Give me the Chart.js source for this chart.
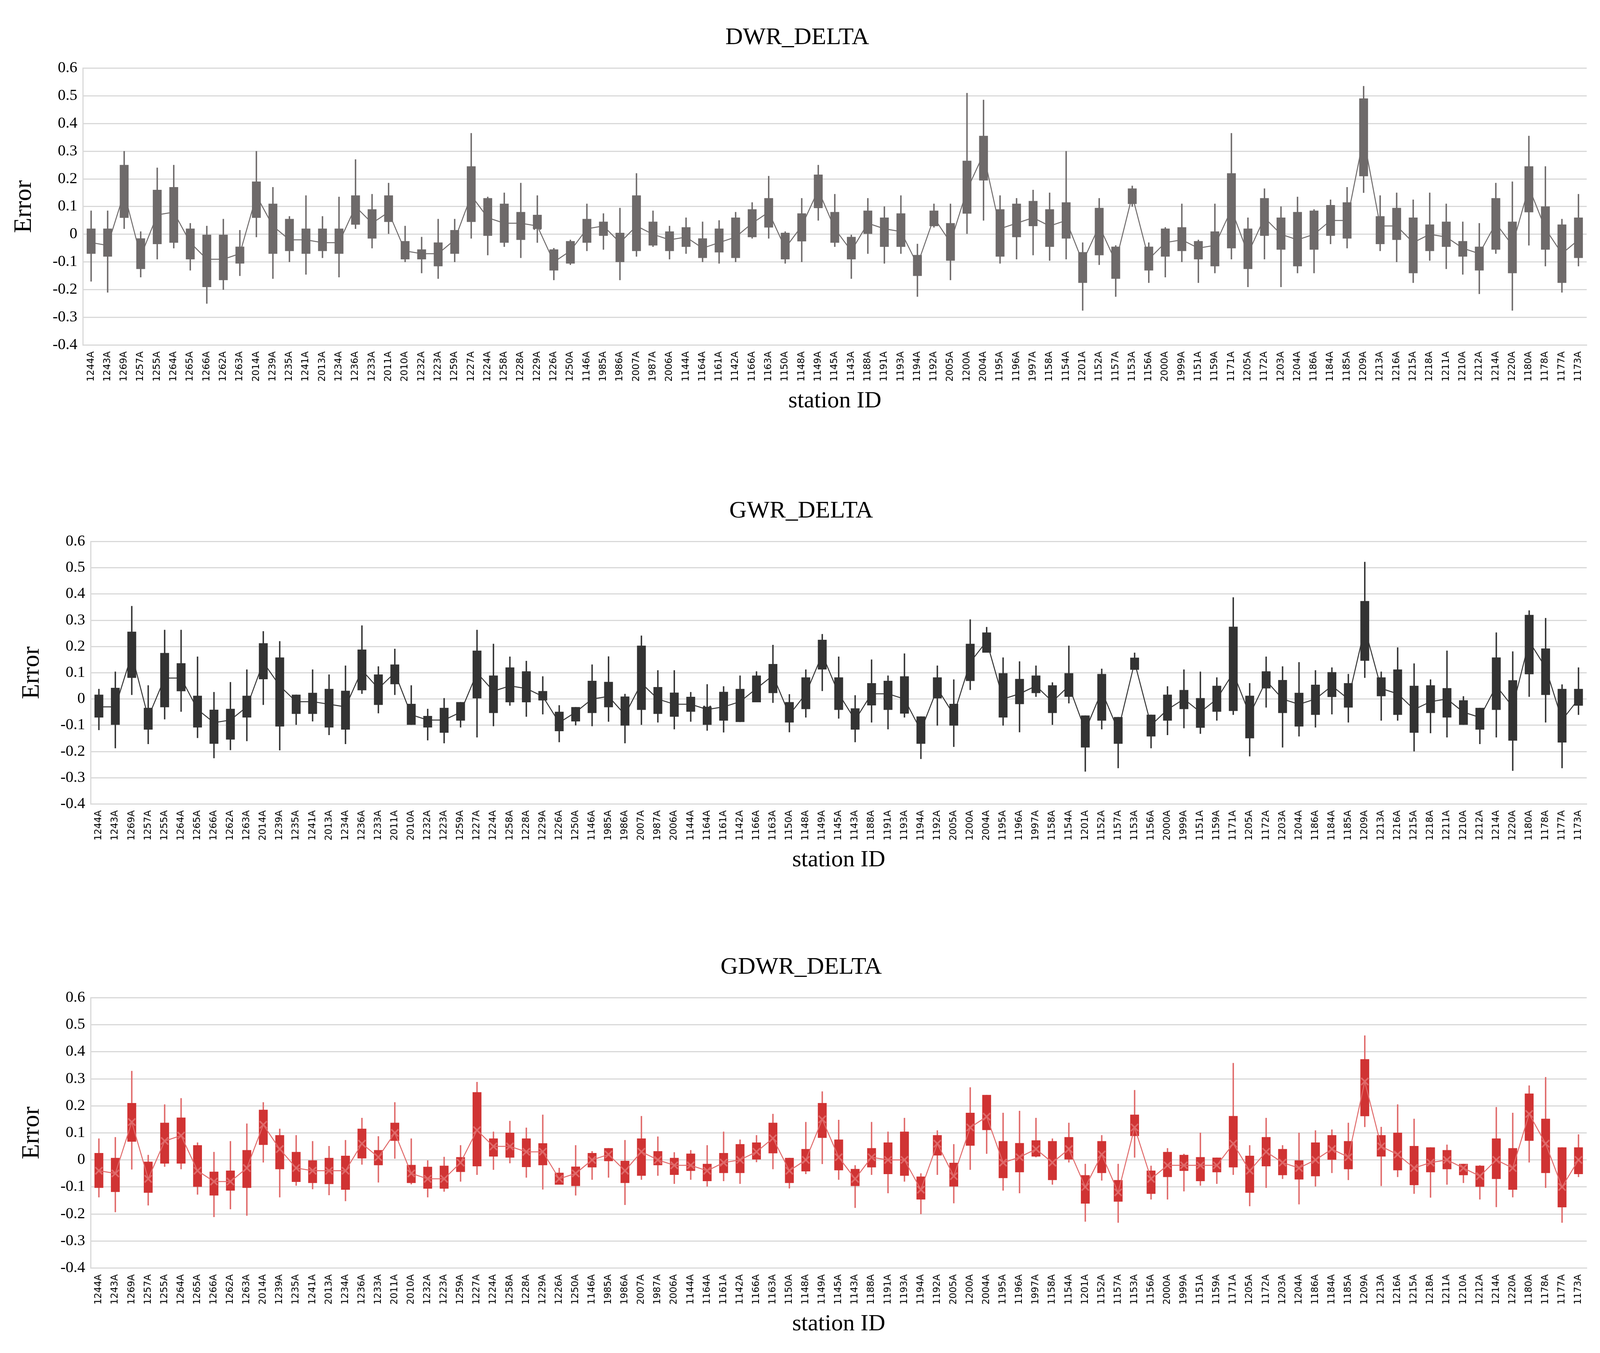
<!DOCTYPE html>
<html>
<head>
<meta charset="utf-8">
<script src="https://cdn.jsdelivr.net/npm/chart.js@4"></script>
<style>
  body { margin: 0; background: #fff; width: 4102px; height: 3464px; position: relative; overflow: hidden; }
  .box { position: absolute; left: 0; width: 4102px; }
  canvas { display: block; }
</style>
</head>
<body>
<div class="box" style="top:20px;height:1047px"><canvas id="c1" width="4102" height="1047"></canvas></div>
<div class="box" style="top:1232px;height:1010px"><canvas id="c2" width="4102" height="1010"></canvas></div>
<div class="box" style="top:2400px;height:1030px"><canvas id="c3" width="4102" height="1030"></canvas></div>
<script>
// station IDs along the x axis
const stations = ['1244A','1243A','1269A','1257A','1255A','1264A','1265A','1266A','1262A','1263A',
  '2014A','1239A','1235A','1241A','2013A','1234A','1236A','1233A','2011A','2010A',
  '1232A','1223A','1259A','1227A','1224A','1258A','1228A','1229A','1226A','1250A',
  '1146A','1985A','1986A','2007A','1987A','2006A','1144A','1164A','1161A','1142A',
  '1166A','1163A','1150A','1148A','1149A','1145A','1143A','1188A','1191A','1193A',
  '1194A','1192A','2005A','1200A','2004A','1195A','1196A','1997A','1158A','1154A',
  '1201A','1152A','1157A','1153A','1156A','2000A','1999A','1151A','1159A','1171A',
  '1205A','1172A','1203A','1204A','1186A','1184A','1185A','1209A','1213A','1216A',
  '1215A','1218A','1211A','1210A','1212A','1214A','1220A','1180A','1178A','1177A','1173A'];
const yTicks = [0.6, 0.5, 0.4, 0.3, 0.2, 0.1, 0, -0.1, -0.2, -0.3, -0.4];

// DWR_DELTA
const dwrQ3 = [0.02,0.02,0.25,-0.015,0.16,0.17,0.02,0,0,-0.045,0.19,0.11,0.055,0.02,0.02,0.02,0.14,0.09,0.14,-0.025,-0.055,-0.03,0.015,0.245,0.13,0.11,0.08,0.07,-0.055,-0.025,0.055,0.045,0.005,0.14,0.045,0.01,0.025,-0.015,0.02,0.06,0.09,0.13,0.005,0.075,0.215,0.08,-0.01,0.085,0.06,0.075,-0.075,0.085,0.04,0.265,0.355,0.09,0.11,0.12,0.09,0.115,-0.065,0.095,-0.045,0.165,-0.045,0.02,0.025,-0.025,0.01,0.22,0.02,0.13,0.06,0.08,0.085,0.105,0.115,0.49,0.065,0.095,0.06,0.035,0.045,-0.025,-0.045,0.13,0.045,0.245,0.1,0.035,0.06];
const dwrQ1 = [-0.07,-0.08,0.06,-0.125,-0.035,-0.03,-0.09,-0.19,-0.165,-0.105,0.06,-0.07,-0.06,-0.07,-0.06,-0.07,0.035,-0.015,0.045,-0.09,-0.09,-0.115,-0.07,0.045,-0.005,-0.03,-0.02,0.02,-0.13,-0.105,-0.03,-0.005,-0.1,-0.06,-0.04,-0.06,-0.045,-0.085,-0.065,-0.085,-0.01,0.025,-0.09,-0.025,0.095,-0.03,-0.09,0,-0.045,-0.045,-0.15,0.03,-0.095,0.075,0.195,-0.08,-0.01,0.03,-0.045,-0.015,-0.175,-0.075,-0.16,0.11,-0.13,-0.08,-0.06,-0.09,-0.115,-0.05,-0.125,-0.005,-0.055,-0.115,-0.055,-0.005,-0.015,0.21,-0.035,-0.02,-0.14,-0.06,-0.045,-0.08,-0.13,-0.055,-0.14,0.08,-0.055,-0.175,-0.085];
const dwrHi = [0.085,0.085,0.3,0.01,0.24,0.25,0.04,0.03,0.055,0.015,0.3,0.17,0.065,0.14,0.065,0.135,0.27,0.145,0.185,0.03,-0.01,0.055,0.055,0.365,0.135,0.15,0.185,0.14,-0.05,-0.02,0.11,0.075,0.095,0.22,0.085,0.03,0.06,0.045,0.05,0.08,0.115,0.21,0.01,0.13,0.25,0.145,0,0.13,0.1,0.14,-0.035,0.11,0.11,0.51,0.485,0.14,0.13,0.16,0.15,0.3,-0.03,0.13,-0.04,0.175,-0.03,0.025,0.11,-0.02,0.11,0.365,0.06,0.165,0.1,0.135,0.09,0.125,0.17,0.535,0.14,0.15,0.125,0.15,0.11,0.045,0.04,0.185,0.19,0.355,0.245,0.055,0.145];
const dwrLo = [-0.17,-0.21,0.02,-0.155,-0.09,-0.05,-0.13,-0.25,-0.2,-0.15,-0.01,-0.16,-0.1,-0.145,-0.085,-0.155,0.02,-0.05,0,-0.1,-0.14,-0.16,-0.1,-0.015,-0.075,-0.045,-0.085,-0.03,-0.165,-0.11,-0.06,-0.055,-0.165,-0.08,-0.045,-0.09,-0.07,-0.1,-0.105,-0.1,-0.015,-0.015,-0.105,-0.1,0.05,-0.045,-0.16,-0.07,-0.105,-0.07,-0.225,0.025,-0.165,0,0.05,-0.105,-0.09,-0.075,-0.095,-0.09,-0.275,-0.11,-0.225,0.1,-0.175,-0.155,-0.1,-0.175,-0.14,-0.09,-0.19,-0.09,-0.19,-0.14,-0.14,-0.035,-0.05,0.15,-0.06,-0.1,-0.175,-0.095,-0.125,-0.145,-0.215,-0.07,-0.275,-0.04,-0.115,-0.21,-0.115];
const dwrMean = [-0.03,-0.04,0.15,-0.08,0.07,0.08,-0.03,-0.09,-0.09,-0.07,0.14,0.03,-0.02,-0.02,-0.03,-0.03,0.1,0.04,0.08,-0.06,-0.07,-0.07,-0.02,0.14,0.06,0.04,0.04,0.03,-0.1,-0.06,0.02,0.03,-0.03,0.03,0,-0.02,-0.01,-0.05,-0.03,-0.01,0.04,0.08,-0.05,0.03,0.16,0.02,-0.06,0.04,0.02,0.01,-0.11,0.06,-0.03,0.16,0.29,0.02,0.04,0.06,0.03,0.05,-0.1,0.03,-0.1,0.14,-0.09,-0.03,-0.02,-0.05,-0.04,0.09,-0.07,0.06,0,-0.02,0,0.05,0.05,0.35,0.03,0.03,-0.03,0,-0.01,-0.05,-0.07,0.04,-0.04,0.17,0.02,-0.07,-0.02];

// GWR_DELTA
const gwrQ3 = [0.016,0.042,0.256,-0.034,0.175,0.136,0.012,-0.041,-0.038,0.012,0.212,0.158,0.016,0.023,0.038,0.031,0.188,0.093,0.131,-0.019,-0.065,-0.034,-0.012,0.184,0.089,0.12,0.105,0.03,-0.049,-0.031,0.069,0.065,0.009,0.203,0.045,0.024,0.008,-0.03,0.027,0.038,0.089,0.133,-0.012,0.082,0.225,0.082,-0.036,0.06,0.069,0.086,-0.067,0.082,-0.019,0.21,0.253,0.098,0.076,0.089,0.052,0.098,-0.063,0.095,-0.069,0.157,-0.06,0.016,0.034,0.003,0.05,0.275,0.012,0.105,0.072,0.023,0.054,0.102,0.06,0.373,0.082,0.112,0.05,0.052,0.041,-0.005,-0.034,0.158,0.071,0.32,0.192,0.038,0.038];
const gwrQ1 = [-0.07,-0.098,0.081,-0.116,-0.031,0.03,-0.108,-0.17,-0.154,-0.07,0.076,-0.104,-0.056,-0.056,-0.108,-0.116,0.034,-0.022,0.057,-0.098,-0.108,-0.128,-0.082,0.003,-0.053,-0.012,-0.012,-0.005,-0.122,-0.085,-0.053,-0.031,-0.101,-0.041,-0.056,-0.067,-0.048,-0.098,-0.082,-0.087,-0.012,0.023,-0.089,-0.038,0.113,-0.041,-0.116,-0.024,-0.041,-0.055,-0.17,0.003,-0.101,0.069,0.177,-0.07,-0.019,0.023,-0.053,0.009,-0.184,-0.082,-0.17,0.112,-0.142,-0.082,-0.038,-0.109,-0.048,-0.045,-0.149,0.041,-0.053,-0.104,-0.06,0.008,-0.032,0.146,0.011,-0.06,-0.128,-0.053,-0.07,-0.098,-0.116,-0.041,-0.158,0.095,0.016,-0.165,-0.025];
const gwrHi = [0.038,0.104,0.354,0.052,0.263,0.263,0.161,0.026,0.064,0.112,0.258,0.22,0.016,0.112,0.093,0.127,0.28,0.124,0.191,0.052,-0.038,0.003,-0.012,0.263,0.21,0.161,0.145,0.086,-0.024,-0.031,0.131,0.162,0.019,0.241,0.109,0.109,0.026,0.056,0.048,0.089,0.105,0.206,0.018,0.112,0.247,0.161,0.014,0.15,0.089,0.173,-0.067,0.127,0.074,0.303,0.274,0.158,0.143,0.127,0.063,0.203,-0.063,0.115,-0.069,0.176,-0.06,0.048,0.112,0.104,0.082,0.387,0.06,0.161,0.124,0.14,0.109,0.12,0.095,0.522,0.104,0.196,0.135,0.074,0.184,0.01,-0.034,0.253,0.181,0.337,0.308,0.055,0.12];
const gwrLo = [-0.118,-0.187,0.016,-0.171,-0.077,-0.048,-0.148,-0.225,-0.194,-0.16,-0.022,-0.195,-0.098,-0.085,-0.137,-0.171,0.02,-0.054,0.016,-0.098,-0.157,-0.168,-0.108,-0.146,-0.103,-0.025,-0.067,-0.058,-0.164,-0.1,-0.103,-0.086,-0.168,-0.098,-0.089,-0.115,-0.086,-0.12,-0.127,-0.087,-0.012,-0.014,-0.126,-0.07,0.031,-0.074,-0.164,-0.089,-0.115,-0.07,-0.228,-0.101,-0.182,0.035,0.177,-0.101,-0.126,0.009,-0.098,-0.016,-0.276,-0.115,-0.263,0.112,-0.187,-0.137,-0.111,-0.132,-0.082,-0.06,-0.218,-0.032,-0.184,-0.142,-0.108,-0.058,-0.089,0.081,-0.082,-0.082,-0.199,-0.13,-0.146,-0.098,-0.171,-0.146,-0.273,0.009,-0.089,-0.263,-0.06];
const gwrMean = [-0.03,-0.03,0.17,-0.07,0.08,0.08,-0.04,-0.09,-0.08,-0.03,0.14,0.05,-0.01,-0.01,-0.02,-0.03,0.11,0.04,0.1,-0.06,-0.08,-0.08,-0.05,0.1,0.03,0.05,0.04,0.01,-0.09,-0.05,0,0.01,-0.06,0.06,0,-0.02,-0.02,-0.04,-0.03,-0.01,0.04,0.09,-0.06,0.02,0.17,0.02,-0.08,0.02,0.02,0,-0.12,0.04,-0.06,0.14,0.22,0,0.02,0.05,-0.01,0.05,-0.12,0.03,-0.12,0.14,-0.1,-0.04,0,-0.05,0,0.1,-0.06,0.07,0,-0.02,0,0.05,0,0.27,0.04,0.02,-0.04,-0.01,0,-0.05,-0.07,0.05,-0.03,0.22,0.12,-0.08,0];

// GDWR_DELTA
const gdwrQ3 = [0.025,0.007,0.21,-0.007,0.137,0.156,0.054,-0.044,-0.04,0.036,0.185,0.091,0.029,0,0.007,0.015,0.115,0.036,0.137,-0.019,-0.026,-0.022,0.01,0.25,0.079,0.1,0.079,0.061,-0.048,-0.025,0.025,0.043,-0.004,0.079,0.032,0.007,0.023,-0.015,0.025,0.058,0.064,0.137,0.007,0.04,0.21,0.075,-0.034,0.043,0.064,0.104,-0.062,0.091,-0.011,0.174,0.24,0.069,0.062,0.072,0.069,0.084,-0.057,0.069,-0.075,0.167,-0.04,0.029,0.018,0.01,0.008,0.162,0.015,0.084,0.04,0,0.064,0.091,0.069,0.372,0.091,0.1,0.051,0.046,0.036,-0.015,-0.022,0.079,0.043,0.245,0.152,0.046,0.046];
const gdwrQ1 = [-0.103,-0.118,0.068,-0.121,-0.013,-0.013,-0.099,-0.131,-0.113,-0.103,0.056,-0.034,-0.081,-0.085,-0.089,-0.11,0.006,-0.019,0.071,-0.085,-0.106,-0.106,-0.044,-0.023,0.013,0.009,-0.026,-0.019,-0.091,-0.096,-0.027,-0.004,-0.085,-0.058,-0.019,-0.055,-0.04,-0.078,-0.048,-0.048,0,0.025,-0.085,-0.042,0.082,-0.038,-0.096,-0.027,-0.052,-0.058,-0.146,0.017,-0.098,0.053,0.111,-0.067,-0.045,0.013,-0.074,0,-0.161,-0.048,-0.154,0.089,-0.125,-0.063,-0.04,-0.078,-0.045,-0.027,-0.121,-0.023,-0.056,-0.072,-0.06,0.001,-0.034,0.162,0.013,-0.038,-0.093,-0.045,-0.034,-0.056,-0.099,-0.07,-0.11,0.071,-0.048,-0.175,-0.052];
const gdwrHi = [0.079,0.084,0.329,0.018,0.205,0.228,0.064,0.029,0.069,0.134,0.213,0.115,0.091,0.069,0.051,0.073,0.155,0.087,0.213,0.079,-0.002,0.011,0.054,0.288,0.104,0.144,0.119,0.167,-0.03,0.054,0.032,0.043,0.073,0.162,0.086,0.028,0.036,0.054,0.104,0.075,0.091,0.17,0.007,0.14,0.253,0.148,-0.02,0.14,0.104,0.155,-0.05,0.109,0.058,0.268,0.24,0.174,0.181,0.155,0.079,0.137,-0.015,0.091,-0.015,0.258,-0.022,0.043,0.022,0.1,0.008,0.358,0.054,0.155,0.054,0.1,0.109,0.112,0.137,0.46,0.122,0.205,0.152,0.046,0.056,-0.015,-0.02,0.195,0.174,0.275,0.306,0.046,0.094];
const gdwrLo = [-0.138,-0.193,-0.035,-0.168,-0.025,-0.034,-0.128,-0.211,-0.182,-0.206,-0.009,-0.138,-0.095,-0.108,-0.13,-0.152,-0.017,-0.083,0.005,-0.09,-0.138,-0.117,-0.08,-0.055,-0.036,-0.012,-0.065,-0.109,-0.091,-0.131,-0.073,-0.065,-0.166,-0.073,-0.058,-0.088,-0.073,-0.098,-0.078,-0.088,-0.008,-0.034,-0.105,-0.052,-0.015,-0.073,-0.177,-0.055,-0.123,-0.08,-0.2,-0.055,-0.16,-0.036,0.023,-0.113,-0.123,0.01,-0.091,-0.009,-0.228,-0.076,-0.232,0.009,-0.146,-0.146,-0.116,-0.095,-0.088,-0.055,-0.171,-0.103,-0.07,-0.164,-0.098,-0.048,-0.074,0.122,-0.096,-0.063,-0.125,-0.139,-0.091,-0.085,-0.146,-0.174,-0.138,-0.009,-0.103,-0.232,-0.063];
const gdwrMean = [-0.04,-0.05,0.14,-0.07,0.07,0.09,-0.04,-0.08,-0.08,-0.03,0.13,0.04,-0.03,-0.04,-0.04,-0.04,0.06,0.01,0.1,-0.05,-0.07,-0.07,-0.01,0.11,0.05,0.05,0.03,0.03,-0.07,-0.05,0,0.02,-0.04,0.03,0,-0.02,-0.02,-0.04,-0.01,0,0.03,0.08,-0.04,0,0.15,0.01,-0.07,0.01,0,0,-0.11,0.06,-0.06,0.12,0.16,-0.01,0.01,0.04,-0.01,0.04,-0.1,0.02,-0.12,0.12,-0.07,-0.02,-0.02,-0.02,-0.02,0.06,-0.04,0.03,-0.01,-0.03,0,0.04,0.01,0.29,0.05,0.02,-0.03,-0.01,0,-0.03,-0.06,0,-0.03,0.17,0.06,-0.1,0];

const serif = "'Liberation Serif', 'Times New Roman', serif";

function zip2(a, b) { return a.map((v, i) => [v, b[i]]); }

function makeChart(id, title, q1, q3, lo, hi, mean, boxColor, lineColor, pad) {
  new Chart(document.getElementById(id), {
    type: 'bar',
    data: {
      labels: stations,
      datasets: [
        { label: 'whisker', data: zip2(lo, hi), backgroundColor: lineColor, barThickness: 3, grouped: false, order: 3 },
        { label: 'box', data: zip2(q1, q3), backgroundColor: boxColor, barThickness: 22, grouped: false, order: 2 },
        { type: 'line', label: 'mean', data: mean, borderColor: lineColor, borderWidth: 2.5,
          pointStyle: 'crossRot', pointRadius: 13, pointBorderColor: lineColor, pointBorderWidth: 4, order: 1 }
      ]
    },
    options: {
      responsive: false,
      animation: false,
      devicePixelRatio: 1,
      layout: { padding: pad },
      plugins: {
        legend: { display: false },
        tooltip: { enabled: false },
        title: { display: true, text: title, color: '#000', font: { family: serif, size: 62, weight: 'normal' }, padding: { top: 0, bottom: 40 } }
      },
      scales: {
        x: {
          grid: { display: false },
          border: { color: '#d9d9d9', width: 3 },
          ticks: { autoSkip: false, maxRotation: 90, minRotation: 90, color: '#000', font: { family: 'DejaVu Sans', size: 24 }, padding: 8 },
          title: { display: true, text: 'station ID', color: '#000', font: { family: serif, size: 60 }, padding: { top: 6 } }
        },
        y: {
          min: -0.4, max: 0.6,
          afterBuildTicks: axis => { axis.ticks = yTicks.map(v => ({ value: v })); },
          grid: { color: '#d9d9d9', lineWidth: 3, drawTicks: false },
          border: { color: '#d9d9d9', width: 3 },
          ticks: { color: '#000', font: { family: serif, size: 40 }, padding: 14, callback: v => String(Math.round(v * 10) / 10) },
          title: { display: true, text: 'Error', color: '#000', font: { family: serif, size: 64 }, padding: { bottom: 20 } }
        }
      }
    }
  });
}

makeChart('c1', 'DWR_DELTA', dwrQ1, dwrQ3, dwrLo, dwrHi, dwrMean, '#6e6a6a', '#6e6a6a', { left: 20, right: 40, top: 40 });
makeChart('c2', 'GWR_DELTA', gwrQ1, gwrQ3, gwrLo, gwrHi, gwrMean, '#333333', '#333333', { left: 40, right: 40, top: 40 });
makeChart('c3', 'GDWR_DELTA', gdwrQ1, gdwrQ3, gdwrLo, gdwrHi, gdwrMean, '#d03333', '#e06a6a', { left: 40, right: 40, top: 40 });
</script>
</body>
</html>
